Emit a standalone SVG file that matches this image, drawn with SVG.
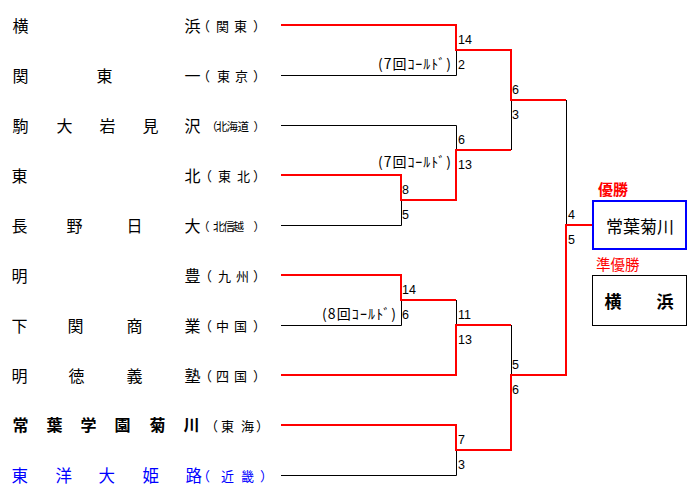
<svg xmlns="http://www.w3.org/2000/svg" width="697" height="501" viewBox="0 0 697 501">
<style>
.nm{font-family:"Noto Sans CJK JP","Noto Sans CJK SC",sans-serif;font-size:16px;fill:#000}
.rg{font-family:"Noto Sans CJK JP","Noto Sans CJK SC",sans-serif;font-size:13px;fill:#000}
.rs{font-family:"Noto Sans CJK JP","Noto Sans CJK SC",sans-serif;font-size:11.5px;fill:#000}
.sc{font-family:"Liberation Sans",Arial,sans-serif;font-size:12.5px;fill:#000}
.kd{font-family:"Noto Sans CJK JP","Noto Sans CJK SC",sans-serif;font-size:14px;fill:#000}
.bk{fill:none;stroke:#000;stroke-width:1}
.rd{fill:none;stroke:#f00;stroke-width:2}
</style>
<rect width="697" height="501" fill="#fff"/>
<g id="connectors">
<path class="bk" d="M281,75.5H456.5V50"/>
<path class="bk" d="M281,125.5H456.5V150"/>
<path class="bk" d="M281,225.5H401.5V200"/>
<path class="bk" d="M511.5,100V150"/>
<path class="bk" d="M566.5,100V225"/>
<path class="bk" d="M281,325.5H401.5V300"/>
<path class="bk" d="M456.5,300V325"/>
<path class="bk" d="M511.5,325V375"/>
<path class="bk" d="M281,475.5H456.5V450"/>
<path class="rd" d="M281,25H456V50H511V100H566"/>
<path class="rd" d="M281,175H401V200H456V150H511"/>
<path class="rd" d="M281,275H401V300H456"/>
<path class="rd" d="M281,375H456V325H511"/>
<path class="rd" d="M281,425H456V450H511V375H566V225H592"/>
</g>
<g id="scores">
<text class="sc" x="458" y="43.5">14</text>
<text class="sc" x="458" y="68.5">2</text>
<text class="sc" x="512" y="94">6</text>
<text class="sc" x="512" y="119">3</text>
<text class="sc" x="458" y="143.5">6</text>
<text class="sc" x="458" y="168.5">13</text>
<text class="sc" x="402" y="193.5">8</text>
<text class="sc" x="402" y="218.5">5</text>
<text class="sc" x="568" y="218.5">4</text>
<text class="sc" x="568" y="243.5">5</text>
<text class="sc" x="402" y="293.5">14</text>
<text class="sc" x="402" y="318.5">6</text>
<text class="sc" x="458" y="318.5">11</text>
<text class="sc" x="458" y="343.5">13</text>
<text class="sc" x="512" y="368.5">5</text>
<text class="sc" x="512" y="393.5">6</text>
<text class="sc" x="458" y="443.5">7</text>
<text class="sc" x="458" y="468.5">3</text>
<text class="kd" x="378" y="68.5" textLength="73" lengthAdjust="spacing">(7回ｺｰﾙﾄﾞ)</text>
<text class="kd" x="378" y="166.5" textLength="73" lengthAdjust="spacing">(7回ｺｰﾙﾄﾞ)</text>
<text class="kd" x="322" y="318.5" textLength="74" lengthAdjust="spacing">(8回ｺｰﾙﾄﾞ)</text>
</g>
<g id="team1"><text class="nm" x="12.5 184.5" y="32">横浜</text><text class="rg" x="197 216 234 253" y="30.5">（関東）</text></g>
<g id="team2"><text class="nm" x="12.5 96.5 184.5" y="82">関東一</text><text class="rg" x="197 217 235 253" y="80.5">（東京）</text></g>
<g id="team3"><text class="nm" x="12.5 56.5 99.5 142.5 184.5" y="132">駒大岩見沢</text><text class="rs" x="206 216 226.5 237.5 253.5" y="130.5">（北海道）</text></g>
<g id="team4"><text class="nm" x="11.5 184.5" y="182">東北</text><text class="rg" x="199 218 237 253" y="180.5">（東北）</text></g>
<g id="team5"><text class="nm" x="11.5 66.5 126.5 184.5" y="232">長野日大</text><text class="rs" x="198 213 223 232.5 253.5" y="230.5">（北信越）</text></g>
<g id="team6"><text class="nm" x="11.5 184.5" y="282">明豊</text><text class="rg" x="199 218 236 253" y="280.5">（九州）</text></g>
<g id="team7"><text class="nm" x="11.5 67.5 126.5 184.5" y="332">下関商業</text><text class="rg" x="199 216 234 253" y="330.5">（中国）</text></g>
<g id="team8"><text class="nm" x="11.5 68.5 126.5 184.5" y="382">明徳義塾</text><text class="rg" x="199 216 234 253" y="380.5">（四国）</text></g>
<g id="team9"><text class="nm" font-weight="bold" x="12.5 46.5 80.5 114.5 149.5 183.5" y="431">常葉学園菊川</text><text class="rg" x="205 221 241 256" y="430.5">（東海）</text></g>
<g id="team10"><text class="nm" style="fill:#00f;font-size:16.5px" x="11.5 55.5 98.5 142.5 185.5" y="482">東洋大姫路</text><text class="rg" style="fill:#00f" x="197 221 241 260" y="480.5">（近畿）</text></g>
<g id="winner">
<text x="598" y="195" font-family="'Noto Sans CJK JP',sans-serif" font-size="15" font-weight="bold" fill="#f00">優勝</text>
<rect x="593" y="201" width="93" height="48" fill="none" stroke="#00f" stroke-width="2"/>
<text x="640" y="233" text-anchor="middle" font-family="'Noto Sans CJK JP',sans-serif" font-size="17" fill="#000">常葉菊川</text>
</g>
<g id="runnerup">
<text x="596" y="270" font-family="'Noto Sans CJK JP',sans-serif" font-size="14.5" fill="#f00">準優勝</text>
<rect x="592.5" y="275.5" width="94" height="50" fill="none" stroke="#000" stroke-width="1"/>
<text x="604.5 656.5" y="307.5" font-family="'Noto Sans CJK JP',sans-serif" font-size="17" font-weight="bold" fill="#000">横浜</text>
</g>
</svg>
